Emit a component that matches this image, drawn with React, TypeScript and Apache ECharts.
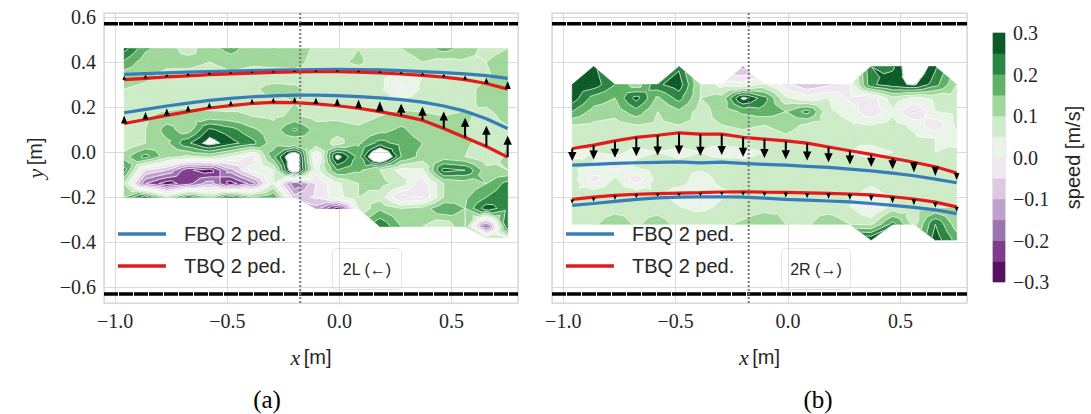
import React, { useEffect, useRef } from 'react';
import * as echarts from 'echarts';

type Cell = number | null;
const N = null;

// grid of the measured field (x positions shared by both panels)
const X_GRID = [-0.96, -0.865, -0.77, -0.675, -0.58, -0.485, -0.39, -0.295, -0.2, -0.105, -0.01, 0.085, 0.18, 0.275, 0.37, 0.465, 0.56, 0.655, 0.75];

// panel (a) rows, top to bottom
const Y_GRID_A = [0.46, 0.4, 0.34, 0.28, 0.22, 0.16, 0.1, 0.04, -0.02, -0.08, -0.14, -0.2, -0.25, -0.33, -0.38];
const SPEED_A: Cell[][] = [
  [0.27, 0.16, 0.12, 0.08, 0.13, 0.17, 0.12, 0.1, 0.13, 0.09, 0.07, 0.1, 0.08, 0.1, 0.12, 0.17, 0.13, 0.08, 0.1],
  [0.19, 0.12, 0.11, 0.12, 0.1, 0.12, 0.11, 0.12, 0.12, 0.08, 0.09, 0.11, 0.07, 0.08, 0.1, 0.08, 0.09, 0.1, 0.13],
  [0.12, 0.11, 0.09, 0.08, 0.07, 0.09, 0.08, 0.07, 0.08, 0.07, 0.06, 0.07, 0.06, 0.04, 0.05, 0.07, 0.06, 0.09, 0.15],
  [0.1, 0.09, 0.08, 0.08, 0.07, 0.08, 0.09, 0.12, 0.11, 0.08, 0.07, 0.08, 0.06, -0.01, 0.06, 0.07, 0.08, 0.12, 0.14],
  [0.08, 0.07, 0.07, 0.08, 0.07, 0.08, 0.09, 0.08, 0.1, 0.09, 0.08, 0.07, 0.08, 0.07, 0.08, 0.07, 0.09, 0.11, 0.14],
  [0.07, 0.09, 0.12, 0.13, 0.12, 0.11, 0.1, 0.09, 0.11, 0.08, 0.09, 0.08, 0.1, 0.12, 0.11, 0.1, 0.11, 0.08, 0.12],
  [0.06, 0.1, 0.17, 0.12, 0.26, 0.22, 0.16, 0.12, 0.21, 0.13, 0.12, 0.11, 0.13, 0.16, 0.12, 0.11, 0.1, 0.08, 0.09],
  [0.05, 0.1, 0.14, 0.24, 0.33, 0.27, 0.22, 0.12, 0.1, 0.14, 0.08, 0.14, 0.22, 0.18, 0.15, 0.13, 0.11, 0.08, 0.1],
  [0.13, 0.22, 0.12, 0.09, 0.11, 0.05, -0.03, 0.18, 0.4, -0.03, 0.33, 0.18, 0.45, 0.2, 0.13, 0.12, 0.1, 0.06, 0.11],
  [0.22, -0.05, -0.1, -0.24, -0.28, -0.12, 0.02, 0.05, 0.4, 0.02, 0.2, 0.16, 0.1, 0.03, 0.04, 0.27, 0.25, 0.12, 0.1],
  [0.1, -0.2, -0.28, -0.22, -0.12, -0.28, -0.18, 0.05, -0.2, -0.05, 0.04, 0.1, 0.12, 0.08, -0.04, 0.1, 0.12, 0.15, 0.22],
  [0.15, 0.28, 0.1, 0.25, 0.12, 0.28, 0.15, 0.2, -0.08, -0.04, 0.03, 0.1, 0.08, -0.06, -0.05, 0.1, 0.14, 0.2, 0.24],
  [N, N, N, N, N, N, N, N, N, -0.12, -0.28, 0.05, 0.14, 0.1, 0.12, 0.2, 0.15, 0.28, 0.22],
  [N, N, N, N, N, N, N, N, N, N, N, N, 0.25, 0.15, 0.1, 0.05, 0.15, -0.24, 0.25],
  [N, N, N, N, N, N, N, N, N, N, N, N, N, N, N, N, N, 0.08, 0.05],
];

// panel (b) rows, top to bottom
const Y_GRID_B = [0.38, 0.3, 0.24, 0.18, 0.12, 0.06, 0.0, -0.06, -0.12, -0.18, -0.24, -0.32, -0.39];
const SPEED_B: Cell[][] = [
  [N, 0.26, N, N, N, 0.24, N, N, -0.12, N, N, N, N, N, 0.25, 0.24, 0.38, 0.26, N],
  [0.26, 0.28, 0.2, 0.12, 0.24, 0.28, 0.1, 0.03, 0.02, 0.06, -0.03, -0.09, -0.06, 0.0, 0.24, 0.28, 0.31, 0.22, 0.1],
  [0.28, 0.18, 0.15, 0.27, 0.14, 0.22, 0.1, 0.12, 0.32, 0.22, 0.06, 0.02, 0.05, -0.01, -0.03, 0.08, 0.04, 0.06, 0.08],
  [0.2, 0.13, 0.12, 0.18, 0.1, 0.14, 0.08, 0.12, 0.16, 0.18, 0.15, 0.22, 0.06, 0.03, -0.04, 0.04, -0.06, 0.05, 0.06],
  [0.1, 0.09, 0.08, 0.1, 0.09, 0.1, 0.09, 0.1, 0.11, 0.1, 0.12, 0.09, 0.08, 0.06, 0.05, 0.07, 0.04, -0.04, 0.06],
  [0.06, 0.07, 0.06, 0.08, 0.07, 0.08, 0.06, 0.07, 0.08, 0.07, 0.09, 0.07, 0.06, 0.05, 0.06, 0.07, 0.06, 0.05, 0.03],
  [0.04, 0.05, 0.06, 0.04, 0.05, 0.04, 0.05, 0.03, 0.04, 0.05, 0.06, 0.05, 0.06, 0.05, 0.04, 0.05, 0.06, 0.05, 0.06],
  [0.06, 0.05, -0.02, 0.06, 0.07, 0.06, 0.07, 0.08, 0.06, 0.07, 0.08, 0.07, 0.08, 0.07, 0.06, 0.07, 0.06, 0.07, 0.08],
  [0.07, -0.02, 0.06, -0.03, 0.07, 0.08, 0.02, 0.07, 0.08, 0.07, 0.08, 0.09, 0.08, 0.07, 0.06, 0.07, 0.06, 0.08, 0.07],
  [0.06, 0.07, 0.08, 0.07, 0.06, 0.03, 0.02, 0.04, 0.07, 0.08, 0.07, 0.08, 0.07, 0.06, 0.04, 0.06, 0.05, 0.07, 0.06],
  [0.07, 0.06, 0.07, 0.08, 0.07, 0.05, 0.03, 0.06, 0.07, 0.08, 0.09, 0.08, 0.07, 0.05, -0.02, 0.06, 0.08, 0.09, 0.1],
  [0.08, 0.09, 0.14, 0.09, 0.13, 0.08, 0.1, 0.09, 0.11, 0.14, 0.1, 0.09, 0.14, 0.1, 0.09, 0.22, 0.08, 0.25, 0.12],
  [N, N, N, N, N, N, N, N, N, N, N, N, N, N, 0.3, N, N, 0.28, 0.18],
];

// contour levels and colours (PRGn, 12 bands)
const LEVELS = [-0.3, -0.25, -0.2, -0.15, -0.1, -0.05, 0, 0.05, 0.1, 0.15, 0.2, 0.25, 0.3];
const LEVEL_COLORS = ['#56115f', '#7f3b8d', '#9c74ae', '#bfa1cc', '#dec8e2', '#f0e8f1', '#ebf4e8', '#ccebc6', '#a0d79b', '#60b266', '#2b8641', '#0b5a27'];

// pedestrian paths, sampled at X_GRID
const FBQ_A_UP = [0.345, 0.349, 0.352, 0.355, 0.358, 0.36, 0.362, 0.364, 0.366, 0.367, 0.368, 0.367, 0.365, 0.362, 0.358, 0.353, 0.348, 0.34, 0.328];
const TBQ_A_UP = [0.322, 0.328, 0.334, 0.339, 0.344, 0.348, 0.351, 0.354, 0.356, 0.357, 0.357, 0.355, 0.352, 0.347, 0.341, 0.333, 0.322, 0.305, 0.28];
const FBQ_A_LO = [0.175, 0.19, 0.205, 0.218, 0.23, 0.239, 0.246, 0.25, 0.253, 0.253, 0.251, 0.247, 0.241, 0.233, 0.222, 0.205, 0.182, 0.148, 0.105];
const TBQ_A_LO = [0.127, 0.145, 0.163, 0.18, 0.196, 0.207, 0.216, 0.221, 0.22, 0.214, 0.206, 0.195, 0.18, 0.162, 0.142, 0.105, 0.065, 0.025, -0.022];
const FBQ_B_UP = [-0.058, -0.054, -0.05, -0.047, -0.045, -0.043, -0.048, -0.044, -0.05, -0.054, -0.058, -0.063, -0.068, -0.075, -0.083, -0.093, -0.105, -0.12, -0.136];
const TBQ_B_UP = [0.016, 0.031, 0.05, 0.066, 0.075, 0.086, 0.08, 0.08, 0.066, 0.058, 0.05, 0.04, 0.023, 0.006, -0.01, -0.027, -0.045, -0.065, -0.093];
const FBQ_B_LO = [-0.236, -0.228, -0.219, -0.21, -0.203, -0.2, -0.199, -0.198, -0.2, -0.204, -0.21, -0.213, -0.217, -0.221, -0.228, -0.236, -0.245, -0.256, -0.273];
const TBQ_B_LO = [-0.21, -0.2, -0.192, -0.187, -0.184, -0.182, -0.18, -0.177, -0.176, -0.178, -0.179, -0.181, -0.183, -0.186, -0.19, -0.198, -0.208, -0.222, -0.243];

const WALLS = [0.57, -0.63];
const DIVIDER_X = -0.175;
const X_TICKS = [-1.0, -0.5, 0.0, 0.5];
const Y_TICKS = [-0.6, -0.4, -0.2, 0.0, 0.2, 0.4, 0.6];
const CBAR_TICKS = [-0.3, -0.2, -0.1, 0.0, 0.1, 0.2, 0.3];
const SERIES_NAMES = ['FBQ 2 ped.', 'TBQ 2 ped.'];
const PANEL_TAGS = ['2L (\u2190)', '2R (\u2192)'];
const CAPTIONS = ['(a)', '(b)'];

const X_MIN = -1.05, X_MAX = 0.796, Y_MIN = -0.67, Y_MAX = 0.618;
const QUIVER_SCALE = 0.75;
const BLUE = '#377eb8', RED = '#e41a1c';
const TXT = '#262626';
const SERIF = '"Liberation Serif"';
const SANS = '"Liberation Sans"';

const fmtTick = (ticks: number[]) => (v: number) => {
  const t = ticks.find((k) => Math.abs(k - v) < 1e-6);
  if (t === undefined) return '';
  return (t < -1e-9 ? '\u2212' : '') + Math.abs(t).toFixed(1);
};

function clipPoly(poly: number[][], level: number, sign: number): number[][] {
  const out: number[][] = [];
  const n = poly.length;
  for (let k = 0; k < n; k++) {
    const a = poly[k], b = poly[(k + 1) % n];
    const fa = sign * (a[2] - level), fb = sign * (b[2] - level);
    if (fa >= 0) out.push(a);
    if ((fa >= 0) !== (fb >= 0)) {
      const t = fa / (fa - fb);
      out.push([a[0] + (b[0] - a[0]) * t, a[1] + (b[1] - a[1]) * t, level]);
    }
  }
  return out;
}

function cellTriangles(api: any, xs: number[], ys: number[], grid: Cell[][], i: number, j: number): number[][][] {
  const idx = [[i, j], [i, j + 1], [i + 1, j + 1], [i + 1, j]];
  const pts = idx.map(([r, c]) => {
    const v = grid[r][c];
    if (v === null || v === undefined) return null;
    const p = api.coord([xs[c], ys[r]]);
    return [p[0], p[1], v];
  });
  const valid = pts.filter((p) => p !== null) as number[][];
  if (valid.length === 4) {
    const ctr = [0, 1, 2].map((d) => (valid[0][d] + valid[1][d] + valid[2][d] + valid[3][d]) / 4);
    return [0, 1, 2, 3].map((k) => [valid[k], valid[(k + 1) % 4], ctr]);
  }
  if (valid.length === 3) return [valid];
  return [];
}

const makeCells = (ys: number[]) => {
  const cells: number[][] = [];
  for (let i = 0; i < ys.length - 1; i++) {
    for (let j = 0; j < X_GRID.length - 1; j++) cells.push([X_GRID[j], ys[i], i, j]);
  }
  return cells;
};

const fillRender = (ys: number[], grid: Cell[][]) => (_p: any, api: any) => {
  const tris = cellTriangles(api, X_GRID, ys, grid, api.value(2), api.value(3));
  const children: any[] = [];
  for (const tri of tris) {
    for (let k = 0; k < LEVEL_COLORS.length; k++) {
      let poly = clipPoly(tri, LEVELS[k], 1);
      if (poly.length < 3) continue;
      poly = clipPoly(poly, LEVELS[k + 1], -1);
      if (poly.length < 3) continue;
      children.push({
        type: 'polygon',
        shape: { points: poly.map((p) => [p[0], p[1]]) },
        style: { fill: LEVEL_COLORS[k], stroke: LEVEL_COLORS[k], lineWidth: 0.6 },
      });
    }
  }
  return { type: 'group', children };
};

const isoRender = (ys: number[], grid: Cell[][]) => (_p: any, api: any) => {
  const tris = cellTriangles(api, X_GRID, ys, grid, api.value(2), api.value(3));
  const children: any[] = [];
  for (const tri of tris) {
    for (const L of LEVELS) {
      const pts: number[][] = [];
      for (let e = 0; e < 3; e++) {
        const a = tri[e], b = tri[(e + 1) % 3];
        const fa = a[2] - L, fb = b[2] - L;
        if ((fa >= 0) !== (fb >= 0)) {
          const t = fa / (fa - fb);
          pts.push([a[0] + (b[0] - a[0]) * t, a[1] + (b[1] - a[1]) * t]);
        }
      }
      if (pts.length === 2) {
        children.push({
          type: 'line',
          shape: { x1: pts[0][0], y1: pts[0][1], x2: pts[1][0], y2: pts[1][1] },
          style: { stroke: '#ffffff', lineWidth: 0.75 },
        });
      }
    }
  }
  return { type: 'group', children };
};

const arrowRender = (_p: any, api: any) => {
  const x = api.value(0), y0 = api.value(1), y1 = api.value(2);
  const p0 = api.coord([x, y0]);
  const tip = api.coord([x, y0 + (y1 - y0) * QUIVER_SCALE]);
  const dx = tip[0] - p0[0], dy = tip[1] - p0[1];
  const L = Math.hypot(dx, dy);
  if (L < 0.5) return { type: 'group', children: [] };
  const ux = dx / L, uy = dy / L, nx = -uy, ny = ux;
  const HL = 9, HW = 4.2, SW = 1.0;
  let pts: number[][];
  if (L >= HL * 1.2) {
    const bx = tip[0] - ux * HL, by = tip[1] - uy * HL;
    pts = [
      [p0[0] + nx * SW, p0[1] + ny * SW], [bx + nx * SW, by + ny * SW], [bx + nx * HW, by + ny * HW],
      [tip[0], tip[1]], [bx - nx * HW, by - ny * HW], [bx - nx * SW, by - ny * SW], [p0[0] - nx * SW, p0[1] - ny * SW],
    ];
  } else {
    const hw = HW * Math.max(0.45, L / (HL * 1.2));
    pts = [[p0[0] + nx * hw, p0[1] + ny * hw], [tip[0], tip[1]], [p0[0] - nx * hw, p0[1] - ny * hw]];
  }
  return { type: 'polygon', shape: { points: pts }, style: { fill: '#000000' } };
};

const rich = {
  i: { fontFamily: SERIF, fontStyle: 'italic', fontSize: 22, color: TXT },
  s: { fontFamily: SANS, fontSize: 20, color: TXT },
};

const xAxisFor = (g: number) => ({
  gridIndex: g, type: 'value', min: X_MIN, max: X_MAX, splitNumber: 4,
  axisLine: { show: false }, axisTick: { show: false },
  splitLine: { show: true, lineStyle: { color: '#dadada', width: 1 } },
  axisLabel: { formatter: fmtTick(X_TICKS), fontFamily: SERIF, fontSize: 20, color: TXT, margin: 8 },
  name: '{i|x} {s|[m]}', nameLocation: 'middle', nameGap: 43, nameTextStyle: { rich },
});

const yAxisFor = (g: number, labels: boolean) => ({
  gridIndex: g, type: 'value', min: Y_MIN, max: Y_MAX, splitNumber: 6,
  axisLine: { show: false }, axisTick: { show: false },
  splitLine: { show: true, lineStyle: { color: '#dadada', width: 1 } },
  axisLabel: { show: labels, formatter: fmtTick(Y_TICKS), fontFamily: SERIF, fontSize: 20, color: TXT, margin: 8 },
  name: labels ? '{i|y} {s|[m]}' : '', nameLocation: 'middle', nameGap: 58, nameTextStyle: { rich },
});

const lineSeries = (name: string, color: string, g: number, ys: number[]) => ({
  type: 'line', name, xAxisIndex: g, yAxisIndex: g, z: 5, silent: true,
  data: X_GRID.map((x, k) => [x, ys[k]]), symbol: 'none',
  lineStyle: { color, width: 3.2 }, itemStyle: { color },
});

const arrowSeries = (g: number, tail: number[], head: number[]) => ({
  type: 'custom', xAxisIndex: g, yAxisIndex: g, z: 6, silent: true, clip: true,
  data: X_GRID.map((x, k) => [x, tail[k], head[k]]), encode: { x: 0, y: 1 },
  renderItem: arrowRender,
});

const guideSeries = (g: number) => [
  ...WALLS.map((w) => ({
    type: 'line', xAxisIndex: g, yAxisIndex: g, z: 7, silent: true, symbol: 'none',
    data: [[X_MIN, w], [X_MAX, w]], lineStyle: { color: '#000000', width: 3.5, type: [14, 1] },
  })),
  {
    type: 'line', xAxisIndex: g, yAxisIndex: g, z: 8, silent: true, symbol: 'none',
    data: [[DIVIDER_X, Y_MIN], [DIVIDER_X, Y_MAX]], lineStyle: { color: '#7a7a7a', width: 2, type: [2, 2] },
  },
];

const fieldSeries = (g: number, ys: number[], grid: Cell[][]) => {
  const cells = makeCells(ys);
  return [
    { type: 'custom', xAxisIndex: g, yAxisIndex: g, z: 1, silent: true, clip: true, data: cells, encode: { x: 0, y: 1 }, renderItem: fillRender(ys, grid) },
    { type: 'custom', xAxisIndex: g, yAxisIndex: g, z: 2, silent: true, clip: true, data: cells, encode: { x: 0, y: 1 }, renderItem: isoRender(ys, grid) },
  ];
};

const legendFor = (left: number) => ({
  data: SERIES_NAMES, orient: 'vertical', left, top: 218, icon: 'rect', itemWidth: 48, itemHeight: 3.3, itemGap: 10,
  selectedMode: false,
  textStyle: { fontFamily: SANS, fontSize: 20, color: TXT, lineHeight: 22, padding: [0, 0, 0, 13] },
});

const tagGraphic = (left: number, text: string) => ({
  type: 'group', left, top: 248, z: 20,
  children: [
    { type: 'rect', shape: { x: 0, y: 0, width: 69, height: 41, r: 5 }, style: { fill: '#ffffff', stroke: '#e4e4e4', lineWidth: 1 } },
    { type: 'text', x: 34.5, y: 21, style: { text, fill: TXT, font: `16px ${SANS}`, align: 'center', verticalAlign: 'middle' } },
  ],
});

export default function App() {
  const ref = useRef<HTMLDivElement>(null);
  useEffect(() => {
    if (!ref.current) return;
    const chart = echarts.init(ref.current, null, { renderer: 'svg' });
    const option: any = {
      animation: false,
      backgroundColor: '#ffffff',
      grid: [
        { left: 104, top: 13, width: 414, height: 290, show: true, borderColor: '#d2d2d2', borderWidth: 1.2 },
        { left: 552, top: 13, width: 415, height: 290, show: true, borderColor: '#d2d2d2', borderWidth: 1.2 },
        { left: 993, top: 33, width: 12, height: 249, show: true, borderColor: '#d2d2d2', borderWidth: 1 },
      ],
      xAxis: [xAxisFor(0), xAxisFor(1), { gridIndex: 2, type: 'value', min: 0, max: 1, show: false }],
      yAxis: [
        yAxisFor(0, true),
        yAxisFor(1, false),
        {
          gridIndex: 2, type: 'value', min: -0.3, max: 0.3, interval: 0.1, position: 'right',
          axisLine: { show: false }, axisTick: { show: false }, splitLine: { show: false },
          axisLabel: { formatter: fmtTick(CBAR_TICKS), fontFamily: SERIF, fontSize: 20, color: TXT, margin: 8 },
          name: 'speed [m/s]', nameLocation: 'middle', nameRotate: 90, nameGap: 58,
          nameTextStyle: { fontFamily: SANS, fontSize: 20, color: TXT },
        },
      ],
      legend: [legendFor(113), legendFor(561)],
      graphic: [
        tagGraphic(332, PANEL_TAGS[0]),
        tagGraphic(781, PANEL_TAGS[1]),
        { type: 'text', x: 267, y: 399, style: { text: CAPTIONS[0], fill: '#000', font: `25px ${SERIF}`, align: 'center', verticalAlign: 'middle' } },
        { type: 'text', x: 818, y: 399, style: { text: CAPTIONS[1], fill: '#000', font: `25px ${SERIF}`, align: 'center', verticalAlign: 'middle' } },
      ],
      series: [
        ...fieldSeries(0, Y_GRID_A, SPEED_A),
        ...fieldSeries(1, Y_GRID_B, SPEED_B),
        lineSeries(SERIES_NAMES[0], BLUE, 0, FBQ_A_UP),
        lineSeries(SERIES_NAMES[0], BLUE, 0, FBQ_A_LO),
        lineSeries(SERIES_NAMES[1], RED, 0, TBQ_A_UP),
        lineSeries(SERIES_NAMES[1], RED, 0, TBQ_A_LO),
        lineSeries(SERIES_NAMES[0], BLUE, 1, FBQ_B_UP),
        lineSeries(SERIES_NAMES[0], BLUE, 1, FBQ_B_LO),
        lineSeries(SERIES_NAMES[1], RED, 1, TBQ_B_UP),
        lineSeries(SERIES_NAMES[1], RED, 1, TBQ_B_LO),
        arrowSeries(0, TBQ_A_UP, FBQ_A_UP),
        arrowSeries(0, TBQ_A_LO, FBQ_A_LO),
        arrowSeries(1, TBQ_B_UP, FBQ_B_UP),
        arrowSeries(1, TBQ_B_LO, FBQ_B_LO),
        ...guideSeries(0),
        ...guideSeries(1),
        {
          type: 'custom', xAxisIndex: 2, yAxisIndex: 2, silent: true,
          data: LEVEL_COLORS.map((_c, k) => [0, LEVELS[k], LEVELS[k + 1], k]), encode: { x: 0, y: 1 },
          renderItem: (_p: any, api: any) => {
            const lo = api.coord([0, api.value(1)]);
            const hi = api.coord([1, api.value(2)]);
            const c = LEVEL_COLORS[api.value(3)];
            return { type: 'rect', shape: { x: lo[0], y: hi[1], width: hi[0] - lo[0], height: lo[1] - hi[1] }, style: { fill: c, stroke: c, lineWidth: 0.5 } };
          },
        },
      ],
    };
    chart.setOption(option);
    return () => chart.dispose();
  }, []);
  return <div ref={ref} style={{ position: 'fixed', left: 0, top: 0, width: 1091, height: 414 }} />;
}
